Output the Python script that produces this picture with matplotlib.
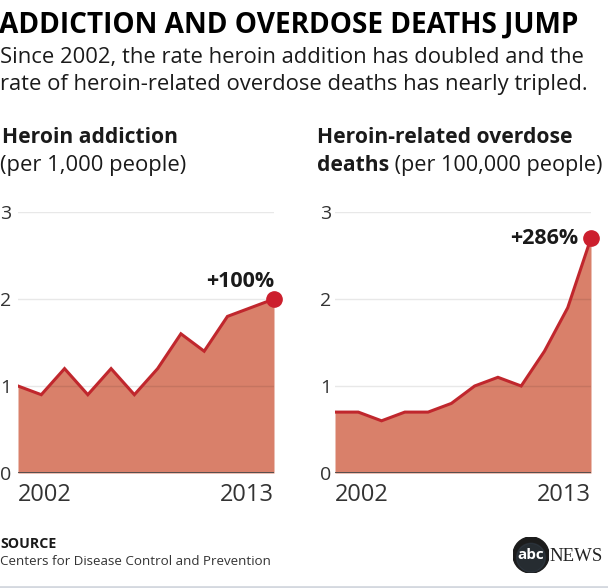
import matplotlib
matplotlib.use("Agg")
import matplotlib.pyplot as plt
from matplotlib.patches import Circle

# data
years = [2002, 2003, 2004, 2005, 2006, 2007, 2008, 2009, 2010, 2011, 2012, 2013]
addiction = [1.0, 0.9, 1.2, 0.9, 1.2, 0.9, 1.2, 1.6, 1.4, 1.8, 1.9, 2.0]
overdose = [0.7, 0.7, 0.6, 0.7, 0.7, 0.8, 1.0, 1.1, 1.0, 1.4, 1.9, 2.7]
y_ticks = [0, 1, 2, 3]
x_labels = ["2002", "2013"]
changes = ["+100%", "+286%"]

W, H = 608, 588
plt.rcParams['font.family'] = ['Open Sans', 'DejaVu Sans']

FILL = '#d9806a'
LINE = '#c0272d'
DOT = '#cc1f2d'
TXT = '#1a1a1a'
GREY = '#333333'


def px(x):
    return x / W


def py(y):
    return 1 - y / H


def box(x0, x1, ytop, ybot):
    return [px(x0), py(ybot), px(x1 - x0), (ybot - ytop) / H]


fig = plt.figure(figsize=(W / 100, H / 100), dpi=100)
fig.patch.set_facecolor('white')

# headline + intro
fig.text(px(-1), py(33), "ADDICTION AND OVERDOSE DEATHS JUMP", fontsize=20.2,
         fontweight='bold', color='black', va='baseline', ha='left')
fig.text(px(0), py(63), "Since 2002, the rate heroin addition has doubled and the",
         fontsize=15.8, color=TXT, va='baseline')
fig.text(px(0), py(90), "rate of heroin-related overdose deaths has nearly tripled.",
         fontsize=15.8, color=TXT, va='baseline')

# panel headings
fig.text(px(2), py(143), "Heroin addiction", fontsize=15.1, fontweight='bold',
         color=TXT, va='baseline')
fig.text(px(0), py(171), "(per 1,000 people)", fontsize=15.8, color=TXT, va='baseline')
fig.text(px(317), py(143), "Heroin-related overdose", fontsize=15.1, fontweight='bold',
         color=TXT, va='baseline')
t1 = fig.text(px(317), py(171), "deaths", fontsize=15.1, fontweight='bold',
              color=TXT, va='baseline')
# place the regular part right after the bold word
fig.canvas.draw()
bb = t1.get_window_extent()
fig.text(bb.x1 / W, py(171), " (per 100,000 people)", fontsize=15.6, color=TXT,
         va='baseline')


def panel(rect, values, label_pad, change, change_pos):
    ax = fig.add_axes(rect)
    x = list(range(len(years)))
    ax.fill_between(x, values, 0, color=FILL, lw=0, zorder=2)
    for t in y_ticks[1:]:
        ax.axhline(t, color='black', alpha=0.09, lw=1, zorder=3)
    ax.axhline(0, color='#4a4a4a', lw=2, zorder=4)
    ax.plot(x, values, color=LINE, lw=2.2, zorder=5, solid_joinstyle='miter')
    ax.plot(x[-1], values[-1], 'o', color=DOT, ms=11, zorder=6, clip_on=False)
    ax.set_xlim(0, len(years) - 1)
    ax.set_ylim(0, 3)
    ax.set_yticks(y_ticks)
    ax.set_yticklabels([str(t) for t in y_ticks])
    ax.tick_params(axis='y', length=0, pad=label_pad, labelsize=14, labelcolor=GREY)
    ax.set_xticks([])
    for s in ax.spines.values():
        s.set_visible(False)
    ax.patch.set_alpha(0)
    # end year labels
    ax.text(0, -0.11, x_labels[0], fontsize=17, color=GREY, ha='left', va='top')
    ax.text(len(years) - 1, -0.11, x_labels[1], fontsize=17, color=GREY, ha='right',
            va='top')
    ax.annotate(change, (x[-1], values[-1]), xytext=change_pos, textcoords='offset points',
                fontsize=15.5, fontweight='bold', color=TXT, ha='right',
                va=('baseline' if change_pos[1] > 0 else 'center'))
    return ax


ax1 = panel(box(18, 274, 212, 473), addiction, 5, changes[0], (0, 8.5))
ax2 = panel(box(335, 591, 212, 473), overdose, 3, changes[1], (-9, 0))

# source
fig.text(px(0), py(548), "SOURCE", fontsize=10.2, fontweight='bold', color=TXT,
         va='baseline')
fig.text(px(0), py(565), "Centers for Disease Control and Prevention", fontsize=9.6,
         color='#333333', va='baseline')

# abc news mark
lax = fig.add_axes(box(513, 549, 537, 573))
lax.set_xlim(-1, 1)
lax.set_ylim(-1, 1)
lax.axis('off')
lax.add_patch(Circle((0, 0), 1, color='#1c1c1c'))
lax.add_patch(Circle((0, -0.15), 0.8, color='#3b4a5a', alpha=0.35))
lax.text(0, 0.02, "abc", color='white', fontsize=11, fontweight='bold', ha='center',
         va='center')
fig.text(px(549), py(561), "NEWS", family=['Liberation Serif', 'DejaVu Serif'],
         fontsize=13.5, color='#222222', va='baseline')

# thin rule along the bottom
fig.add_artist(plt.Line2D([0, 1], [py(587), py(587)], color='#d4d8df', lw=2))

fig.savefig('out.png', dpi=100)
